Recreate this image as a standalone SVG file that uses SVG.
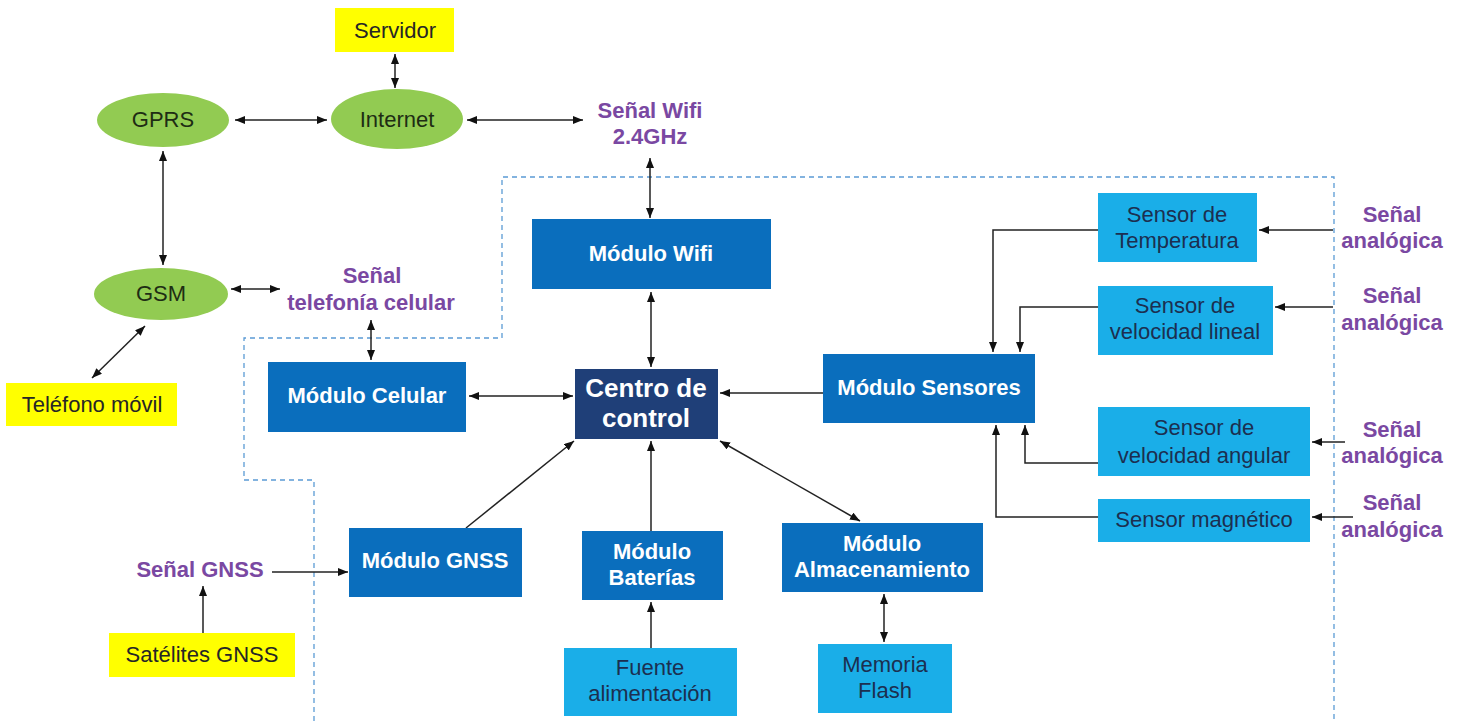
<svg xmlns="http://www.w3.org/2000/svg" width="1462" height="721" viewBox="0 0 1462 721">
<style>
text{font-family:"Liberation Sans",Arial,sans-serif;font-size:22px;text-anchor:middle}
.y{fill:#FFFF00}
.yt{fill:#262626}
.g{fill:#92CB52}
.gt{fill:#1E2D14}
.m{fill:#0A6EBD}
.mt{fill:#FFFFFF;font-weight:bold}
.c{fill:#1F3F78}
.ct{fill:#FFFFFF;font-weight:bold;font-size:26px}
.s{fill:#1AAEE8}
.st{fill:#1C2F50}
.p{fill:#7A48A2;font-weight:bold}
.ln{fill:none;stroke:#222222;stroke-width:1.5}
.bi{marker-start:url(#ah);marker-end:url(#ah)}
.uni{marker-end:url(#ah)}
.dash{fill:none;stroke:#5B9BD5;stroke-width:1.3;stroke-dasharray:5 4}
</style>
<defs>
<marker id="ah" viewBox="0 0 10 8" refX="10" refY="4" markerWidth="10" markerHeight="8" markerUnits="userSpaceOnUse" orient="auto-start-reverse">
<path d="M0,0 L10,4 L0,8 z" fill="#111111"/>
</marker>
</defs>
<rect width="1462" height="721" fill="#FFFFFF"/>
<path class="dash" d="M314,721 V480 H244 V338 H502 V177 H1334 V721"/>
<g id="connectors">
<path class="ln bi" d="M395,54 V88"/>
<path class="ln bi" d="M235,120 H327"/>
<path class="ln bi" d="M467,120 H583"/>
<path class="ln bi" d="M163,151 V265"/>
<path class="ln bi" d="M231,289 H280"/>
<path class="ln bi" d="M145,326 L92,378"/>
<path class="ln bi" d="M371,320 V360"/>
<path class="ln bi" d="M650,158 V218"/>
<path class="ln bi" d="M651,292 V367"/>
<path class="ln bi" d="M469,396 H573"/>
<path class="ln uni" d="M823,393 H720"/>
<path class="ln uni" d="M466,528 L574,441"/>
<path class="ln uni" d="M651,531 V441"/>
<path class="ln bi" d="M720,441 L860,521"/>
<path class="ln bi" d="M884,594 V642"/>
<path class="ln uni" d="M651,648 V602"/>
<path class="ln uni" d="M272,572 H348"/>
<path class="ln uni" d="M203,633 V586"/>
<path class="ln uni" d="M1098,230 H993 V352"/>
<path class="ln uni" d="M1098,307 H1020 V352"/>
<path class="ln uni" d="M1098,463 H1025 V425"/>
<path class="ln uni" d="M1098,517 H996 V425"/>
<path class="ln uni" d="M1333,230 H1259"/>
<path class="ln uni" d="M1333,307 H1275"/>
<path class="ln uni" d="M1345,442 H1312"/>
<path class="ln uni" d="M1353,517 H1312"/>
</g>
<g id="servidor"><rect class="y" x="335" y="8" width="119" height="44"/><text class="yt" x="395" y="38">Servidor</text></g>
<g id="internet"><ellipse class="g" cx="397" cy="119" rx="66" ry="30"/><text class="gt" x="397" y="127">Internet</text></g>
<g id="gprs"><ellipse class="g" cx="163" cy="120" rx="66" ry="27"/><text class="gt" x="163" y="127">GPRS</text></g>
<g id="gsm"><ellipse class="g" cx="161" cy="294" rx="67" ry="26"/><text class="gt" x="161" y="301">GSM</text></g>
<g id="telefono"><rect class="y" x="6" y="383" width="171" height="43"/><text class="yt" x="92" y="412">Teléfono móvil</text></g>
<g id="senal-wifi"><text class="p" x="650" y="118">Señal Wifi</text><text class="p" x="650" y="144">2.4GHz</text></g>
<g id="senal-telefonia"><text class="p" x="372" y="283">Señal</text><text class="p" x="371" y="310">telefonía celular</text></g>
<g id="modulo-wifi"><rect class="m" x="532" y="219" width="239" height="70"/><text class="mt" x="651" y="261">Módulo Wifi</text></g>
<g id="centro"><rect class="c" x="575" y="369" width="143" height="70"/><text class="ct" x="646" y="397">Centro de</text><text class="ct" x="646" y="427">control</text></g>
<g id="modulo-celular"><rect class="m" x="268" y="362" width="198" height="70"/><text class="mt" x="367" y="403">Módulo Celular</text></g>
<g id="modulo-sensores"><rect class="m" x="823" y="354" width="212" height="69"/><text class="mt" x="929" y="395">Módulo Sensores</text></g>
<g id="sensor-temp"><rect class="s" x="1098" y="193" width="159" height="69"/><text class="st" x="1177" y="222">Sensor de</text><text class="st" x="1177" y="248">Temperatura</text></g>
<g id="sensor-lineal"><rect class="s" x="1098" y="286" width="175" height="69"/><text class="st" x="1185" y="313">Sensor de</text><text class="st" x="1185" y="339">velocidad lineal</text></g>
<g id="sensor-angular"><rect class="s" x="1098" y="407" width="212" height="69"/><text class="st" x="1204" y="435">Sensor de</text><text class="st" x="1204" y="463">velocidad angular</text></g>
<g id="sensor-magnetico"><rect class="s" x="1098" y="499" width="212" height="43"/><text class="st" x="1204" y="527">Sensor magnético</text></g>
<g id="senal-analogica-1"><text class="p" x="1392" y="222">Señal</text><text class="p" x="1392" y="248">analógica</text></g>
<g id="senal-analogica-2"><text class="p" x="1392" y="303">Señal</text><text class="p" x="1392" y="330">analógica</text></g>
<g id="senal-analogica-3"><text class="p" x="1392" y="437">Señal</text><text class="p" x="1392" y="463">analógica</text></g>
<g id="senal-analogica-4"><text class="p" x="1392" y="510">Señal</text><text class="p" x="1392" y="537">analógica</text></g>
<g id="modulo-gnss"><rect class="m" x="349" y="528" width="173" height="69"/><text class="mt" x="435" y="568">Módulo GNSS</text></g>
<g id="senal-gnss"><text class="p" x="200" y="577">Señal GNSS</text></g>
<g id="satelites"><rect class="y" x="109" y="633" width="186" height="44"/><text class="yt" x="202" y="662">Satélites GNSS</text></g>
<g id="modulo-baterias"><rect class="m" x="582" y="531" width="141" height="69"/><text class="mt" x="652" y="559">Módulo</text><text class="mt" x="652" y="585">Baterías</text></g>
<g id="fuente"><rect class="s" x="564" y="648" width="173" height="68"/><text class="st" x="650" y="675">Fuente</text><text class="st" x="650" y="701">alimentación</text></g>
<g id="modulo-almacenamiento"><rect class="m" x="782" y="523" width="201" height="69"/><text class="mt" x="882" y="551">Módulo</text><text class="mt" x="882" y="577">Almacenamiento</text></g>
<g id="memoria"><rect class="s" x="818" y="644" width="134" height="69"/><text class="st" x="885" y="672">Memoria</text><text class="st" x="885" y="698">Flash</text></g>
</svg>
